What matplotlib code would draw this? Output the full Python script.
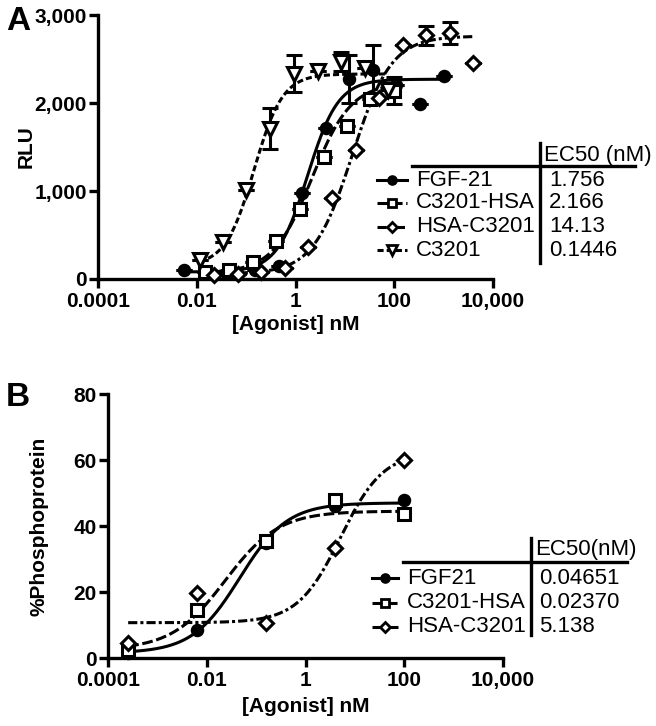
import numpy as np
import matplotlib
matplotlib.use('Agg')
from matplotlib import pyplot as plt
from matplotlib.lines import Line2D

plt.rcParams['font.family'] = ['Liberation Sans', 'DejaVu Sans']

# ---- panel A data (RLU) ----
a_names = ['FGF-21', 'C3201-HSA', 'HSA-C3201', 'C3201']
a_ec50_txt = ['1.756', '2.166', '14.13', '0.1446']

fgf_x = [0.0056, 0.0169, 0.0508, 0.152, 0.457, 1.37, 4.1, 12.3, 37, 111, 333, 1000]
fgf_y = [100, 70, 80, 100, 150, 977, 1716, 2270, 2380, 2200, 1990, 2307]
fgf_e = [0, 0, 0, 0, 0, 0, 0, 270, 280, 0, 0, 0]

chsa_x = [0.015, 0.046, 0.137, 0.41, 1.23, 3.7, 11.1, 33, 100]
chsa_y = [80, 100, 190, 430, 800, 1390, 1740, 2050, 2140]
chsa_e = [0, 0, 0, 0, 0, 0, 0, 0, 150]

hsac_x = [0.0226, 0.068, 0.2, 0.61, 1.83, 5.5, 16.5, 49, 148, 444, 1333, 4000]
hsac_y = [45, 60, 80, 120, 360, 920, 1470, 2057, 2660, 2770, 2795, 2460]
hsac_e = [0, 0, 0, 0, 0, 0, 0, 0, 0, 110, 130, 0]

c32_x = [0.0114, 0.034, 0.1, 0.31, 0.92, 2.8, 8.3, 25, 75]
c32_y = [216, 420, 1011, 1710, 2335, 2364, 2470, 2398, 2150]
c32_e = [0, 0, 0, 230, 210, 0, 110, 0, 0]

# fitted 4PL parameters (bottom, top, ec50, hill)
a_bottom = [80, 70, 60, 150]
a_top = [2270, 2230, 2760, 2330]
a_ec50 = [1.756, 2.166, 14.13, 0.1446]
a_hill = [1.4, 1.1, 1.1, 1.5]

# ---- panel B data (% phosphoprotein) ----
b_names = ['FGF21', 'C3201-HSA', 'HSA-C3201']
b_ec50_txt = ['0.04651', '0.02370', '5.138']
b_x = [0.000256, 0.0064, 0.16, 4, 100]
b_fgf = [1.5, 8.5, 35, 46, 48]
b_chsa = [2.5, 14.5, 35.5, 48, 43.6]
b_hsac = [4.5, 19.7, 10.6, 33.3, 60]

b_bottom = [1.5, 2.5, 10.7]
b_top = [47, 44.5, 62.5]
b_ec50 = [0.04651, 0.0237, 5.138]
b_hill = [0.9, 0.8, 1.0]


def logistic(x, bot, top, ec, h):
    return bot + (top - bot) / (1 + (ec / x) ** h)


styles = [
    dict(marker='o', ls='-', mfc='black', ms=7.5),
    dict(marker='s', ls=(0, (3.5, 1.2)), mfc='white', ms=8),
    dict(marker='D', ls=(0, (3, 1, 1, 1)), mfc='white', ms=7),
    dict(marker='v', ls=(0, (2, 1)), mfc='white', ms=10),
]
LW = 2.2
TICK_FS = 15
LEG_FS = 16

W, H = 656, 726
fig = plt.figure(figsize=(W / 100, H / 100), dpi=100)


def style_axes(ax):
    for s in ['top', 'right']:
        ax.spines[s].set_visible(False)
    for s in ['left', 'bottom']:
        ax.spines[s].set_linewidth(2.4)
    ax.set_xscale('log')
    ax.set_xlim(1e-4, 1e4)
    ax.set_xticks([1e-4, 1e-2, 1, 1e2, 1e4])
    ax.set_xticklabels(['0.0001', '0.01', '1', '100', '10,000'])
    ax.xaxis.set_minor_locator(matplotlib.ticker.NullLocator())
    ax.tick_params(width=2.4, length=6.5, labelsize=TICK_FS, pad=1.5)
    ax.tick_params(axis='x', pad=3)
    for lab in ax.get_xticklabels() + ax.get_yticklabels():
        lab.set_fontweight('bold')


def draw_series(ax, x, y, e, st, fit, xr):
    if e is not None:
        ax.errorbar(x, y, yerr=e, fmt='none', ecolor='black',
                    elinewidth=2.2, capsize=6, capthick=2.2, clip_on=False, zorder=3)
    ax.plot(x, y, ls='none', marker=st['marker'], ms=st['ms'], mfc=st['mfc'],
            mec='black', mew=2.2, clip_on=False, zorder=4)
    xx = np.logspace(np.log10(xr[0]), np.log10(xr[1]), 300)
    ax.plot(xx, logistic(xx, *fit), color='black', lw=LW, ls=st['ls'], zorder=2)


# ---- panel A ----
axA = fig.add_axes([98 / W, 1 - 279 / H, 395 / W, 264 / H])
style_axes(axA)
axA.set_ylim(0, 3000)
axA.set_yticks([0, 1000, 2000, 3000])
axA.set_yticklabels(['0', '1,000', '2,000', '3,000'], fontweight='bold')
a_data = [(fgf_x, fgf_y, fgf_e), (chsa_x, chsa_y, chsa_e),
          (hsac_x, hsac_y, hsac_e), (c32_x, c32_y, c32_e)]
for i, (x, y, e) in enumerate(a_data):
    fit = (a_bottom[i], a_top[i], a_ec50[i], a_hill[i])
    draw_series(axA, x, y, e, styles[i], fit, (x[0], x[-1]))
axA.set_xlabel('[Agonist] nM', fontsize=TICK_FS, fontweight='bold', labelpad=3)
axA.set_ylabel('RLU', fontsize=TICK_FS, fontweight='bold', labelpad=-1)

# ---- panel B ----
axB = fig.add_axes([108 / W, 1 - 658 / H, 395 / W, 264 / H])
style_axes(axB)
axB.set_ylim(0, 80)
axB.set_yticks([0, 20, 40, 60, 80])
axB.set_yticklabels(['0', '20', '40', '60', '80'], fontweight='bold')
b_sets = [b_fgf, b_chsa, b_hsac]
for i, y in enumerate(b_sets):
    fit = (b_bottom[i], b_top[i], b_ec50[i], b_hill[i])
    draw_series(axB, b_x, y, None, styles[i], fit, (b_x[0], b_x[-1]))
axB.set_xlabel('[Agonist] nM', fontsize=TICK_FS, fontweight='bold', labelpad=5)
axB.set_ylabel('%Phosphoprotein', fontsize=TICK_FS, fontweight='bold', labelpad=18)

# panel letters
fig.text(6 / W, 1 - 21 / H, 'A', fontsize=24, fontweight='bold', va='center')
fig.text(6 / W, 1 - 398 / H, 'B', fontsize=24, fontweight='bold', va='center')


# ---- EC50 tables ----
def fx(px):
    return px / W


def fy(py):
    return 1 - py / H


def table(names, vals, header, vline_x, vy0, vy1, hx0, hx1, hy, head_y, rows_y,
          hnd_x0, hnd_x1, txt_x, val_x, st_list):
    fig.add_artist(Line2D([fx(vline_x)] * 2, [fy(vy0), fy(vy1)], color='black', lw=2.4))
    fig.add_artist(Line2D([fx(hx0), fx(hx1)], [fy(hy)] * 2, color='black', lw=2.4))
    fig.text(fx(vline_x + 4), fy(head_y), header, fontsize=LEG_FS, va='center')
    for i, nm in enumerate(names):
        st = st_list[i]
        yy = fy(rows_y[i])
        fig.add_artist(Line2D([fx(hnd_x0), fx(hnd_x1)], [yy, yy], color='black', lw=LW,
                              ls=st['ls']))
        fig.add_artist(Line2D([fx((hnd_x0 + hnd_x1) / 2)], [yy], marker=st['marker'],
                              ms=st['ms'] * 0.75, mfc=st['mfc'], mec='black', mew=2,
                              ls='none'))
        fig.text(fx(txt_x), yy, nm, fontsize=LEG_FS, va='center')
        fig.text(fx(val_x), yy, vals[i], fontsize=LEG_FS, va='center')


table(a_names, a_ec50_txt, 'EC50 (nM)', 540, 143, 263, 412, 635, 166, 155,
      [180, 203, 227, 250], 377, 407, 416, 549, styles)
table(b_names, b_ec50_txt, 'EC50(nM)', 531, 538, 635, 403, 627, 562, 550,
      [578, 603, 627], 372, 398, 407, 539, styles)

fig.savefig('out.png', dpi=100)
